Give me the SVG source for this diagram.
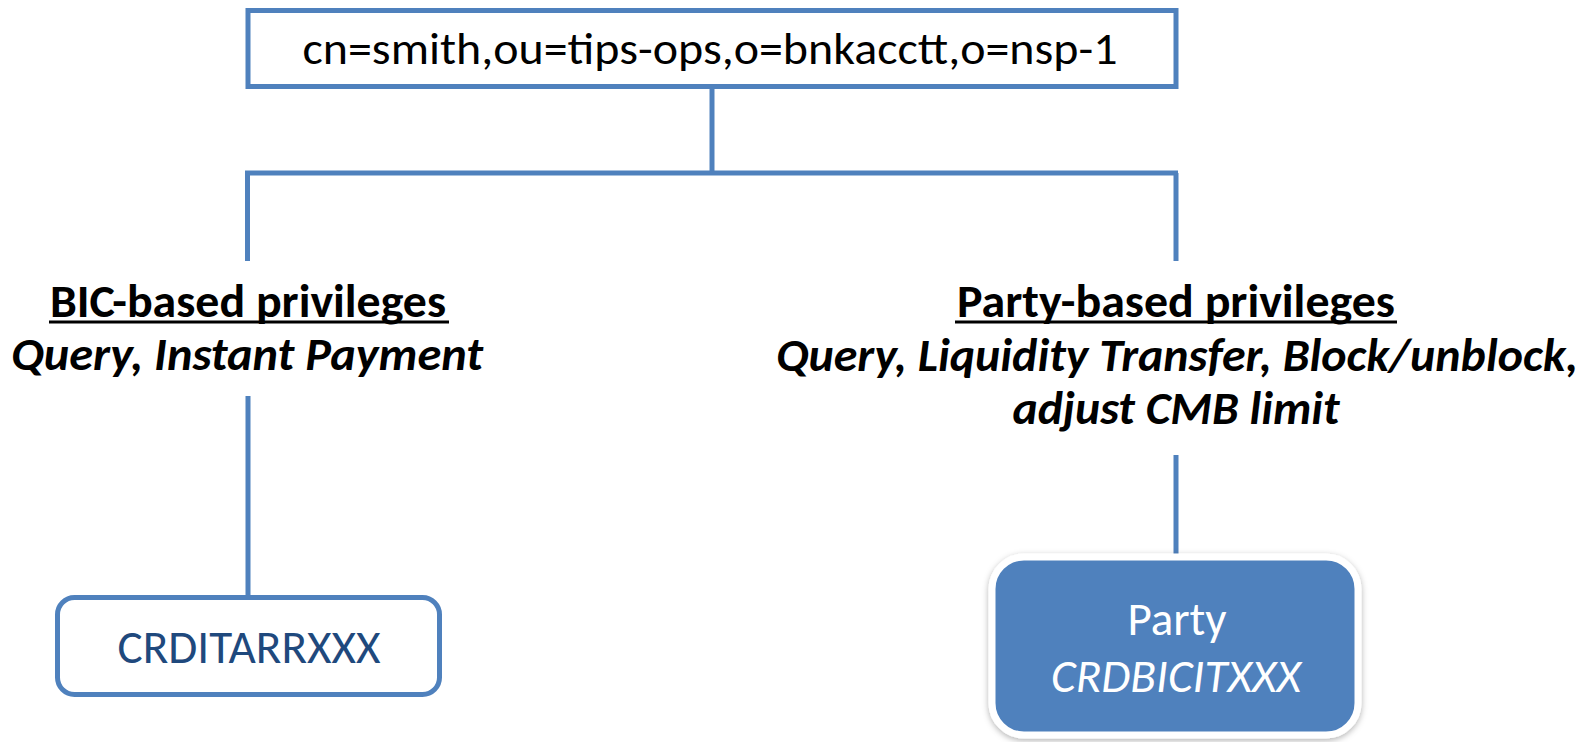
<svg xmlns="http://www.w3.org/2000/svg" width="1594" height="742" viewBox="0 0 1594 742">
<defs>
<style>
.ln{stroke:#4F81BD;stroke-width:5;fill:none}
.t{font-family:Carlito,Lato,"Open Sans",sans-serif;text-anchor:middle}
.h{font-weight:bold;font-size:47px;fill:#000}
.hi{font-weight:bold;font-style:italic;font-size:47px;fill:#000}
</style>
<filter id="sh" x="-10%" y="-10%" width="120%" height="130%">
<feDropShadow dx="0" dy="2" stdDeviation="3" flood-color="#000" flood-opacity="0.3"/>
</filter>
</defs>
<rect width="1594" height="742" fill="#fff"/>
<g id="connectors">
<line class="ln" x1="712" y1="86" x2="712" y2="173"/>
<line class="ln" x1="245" y1="173" x2="1178" y2="173"/>
<line class="ln" x1="247.5" y1="173" x2="247.5" y2="261"/>
<line class="ln" x1="1176" y1="173" x2="1176" y2="261"/>
<line class="ln" x1="248" y1="396" x2="248" y2="598"/>
<line class="ln" x1="1176" y1="455" x2="1176" y2="558"/>
</g>
<g id="dn">
<rect x="248" y="10.5" width="928" height="76" fill="#fff" class="ln"/>
<text class="t" x="710" y="64" font-size="45" textLength="815" lengthAdjust="spacingAndGlyphs">cn=smith,ou=tips-ops,o=bnkacctt,o=nsp-1</text>
</g>
<g id="bic-label">
<text class="t h" x="248" y="317" textLength="396" lengthAdjust="spacingAndGlyphs">BIC-based privileges</text>
<line x1="49" y1="322" x2="449" y2="322" stroke="#000" stroke-width="3"/>
<text class="t hi" x="247" y="370" textLength="472" lengthAdjust="spacingAndGlyphs">Query, Instant Payment</text>
</g>
<g id="party-label">
<text class="t h" x="1176" y="317" textLength="438" lengthAdjust="spacingAndGlyphs">Party-based privileges</text>
<line x1="955" y1="322" x2="1397" y2="322" stroke="#000" stroke-width="3"/>
<text class="t hi" x="1177" y="371" textLength="802" lengthAdjust="spacingAndGlyphs">Query, Liquidity Transfer, Block/unblock,</text>
<text class="t hi" x="1176" y="424" textLength="327" lengthAdjust="spacingAndGlyphs">adjust CMB limit</text>
</g>
<g id="bic">
<rect x="57.5" y="597.5" width="382" height="97" rx="17" fill="#fff" class="ln"/>
<text class="t" x="249" y="663" font-size="47" fill="#1F497D" textLength="263" lengthAdjust="spacingAndGlyphs">CRDITARRXXX</text>
</g>
<g id="party">
<rect x="992" y="557" width="366" height="178" rx="32" fill="#4F81BD" stroke="#fff" stroke-width="7" filter="url(#sh)"/>
<text class="t" x="1177" y="635" font-size="47" fill="#fff">Party</text>
<text class="t" x="1176" y="692" font-size="47" font-style="italic" fill="#fff" textLength="250" lengthAdjust="spacingAndGlyphs">CRDBICITXXX</text>
</g>
</svg>
